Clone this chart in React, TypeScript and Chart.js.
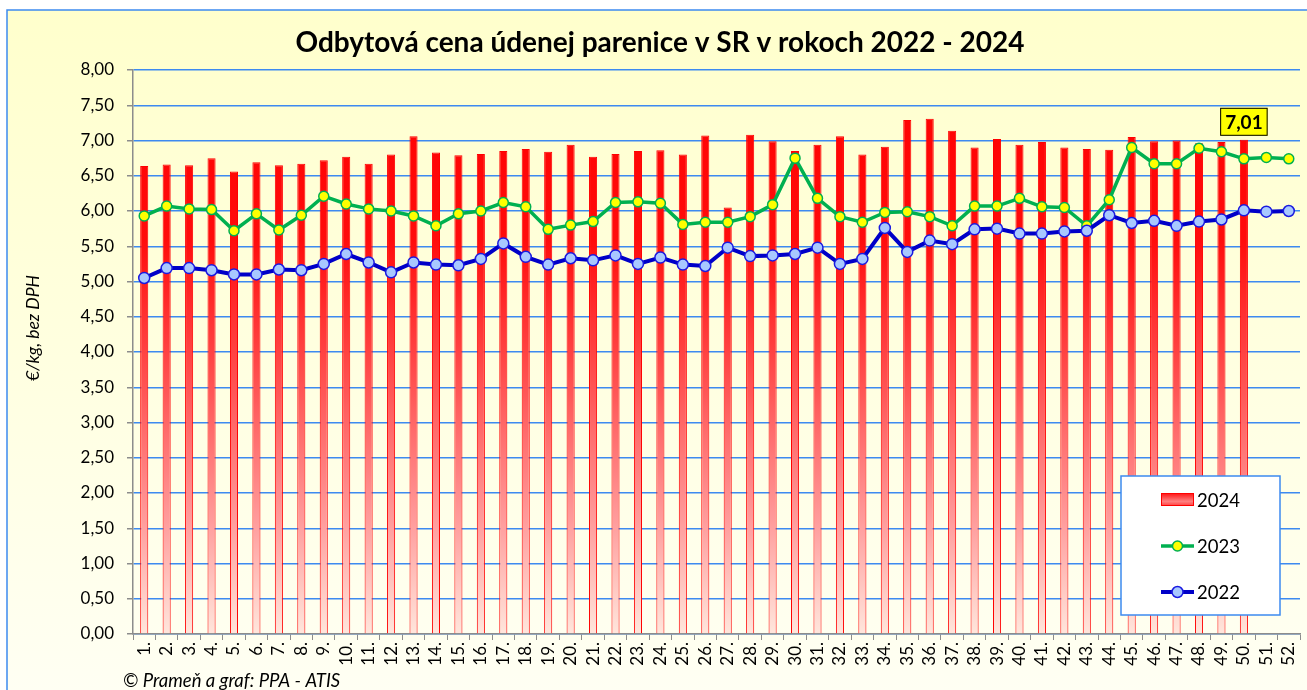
import React, { useEffect, useRef } from "react";
import { Chart, registerables } from "chart.js";

Chart.register(...registerables);

const chartTitle = "Odbytová cena údenej parenice v SR v rokoch 2022 - 2024";
const yAxisTitle = "€/kg, bez DPH";
const sourceNote = "© Prameň a graf: PPA - ATIS";

const weekLabels = [
  "1.", "2.", "3.", "4.", "5.", "6.", "7.", "8.", "9.", "10.",
  "11.", "12.", "13.", "14.", "15.", "16.", "17.", "18.", "19.", "20.",
  "21.", "22.", "23.", "24.", "25.", "26.", "27.", "28.", "29.", "30.",
  "31.", "32.", "33.", "34.", "35.", "36.", "37.", "38.", "39.", "40.",
  "41.", "42.", "43.", "44.", "45.", "46.", "47.", "48.", "49.", "50.",
  "51.", "52.",
];

const prices2024 = [
  6.64, 6.66, 6.65, 6.75, 6.56, 6.69, 6.65, 6.67, 6.72, 6.77,
  6.67, 6.80, 7.06, 6.83, 6.79, 6.81, 6.85, 6.88, 6.84, 6.94,
  6.77, 6.81, 6.85, 6.86, 6.80, 7.07, 6.05, 7.08, 6.99, 6.85,
  6.94, 7.06, 6.80, 6.91, 7.29, 7.31, 7.14, 6.90, 7.02, 6.94,
  6.98, 6.90, 6.88, 6.87, 7.05, 6.99, 7.00, 6.96, 6.98, 7.01,
  null, null,
];

const prices2023 = [
  5.93, 6.07, 6.03, 6.02, 5.72, 5.96, 5.73, 5.94, 6.21, 6.10,
  6.03, 6.00, 5.93, 5.79, 5.96, 6.00, 6.12, 6.06, 5.74, 5.80,
  5.85, 6.12, 6.13, 6.11, 5.81, 5.84, 5.84, 5.92, 6.09, 6.75,
  6.18, 5.92, 5.84, 5.98, 5.99, 5.92, 5.79, 6.07, 6.07, 6.18,
  6.06, 6.05, 5.79, 6.16, 6.90, 6.67, 6.67, 6.89, 6.84, 6.74,
  6.76, 6.74,
];

const prices2022 = [
  5.05, 5.19, 5.19, 5.16, 5.10, 5.10, 5.17, 5.16, 5.25, 5.39,
  5.27, 5.13, 5.27, 5.24, 5.23, 5.32, 5.54, 5.35, 5.24, 5.33,
  5.30, 5.37, 5.25, 5.34, 5.24, 5.22, 5.48, 5.36, 5.37, 5.39,
  5.48, 5.25, 5.32, 5.76, 5.42, 5.58, 5.53, 5.74, 5.75, 5.68,
  5.68, 5.71, 5.72, 5.94, 5.83, 5.86, 5.79, 5.85, 5.88, 6.01,
  5.99, 6.00,
];

const labelledWeekIndex = 49;

const FONT = "Lato, 'Open Sans', sans-serif";
const GRID_BLUE = "#3d8af0";
const AXIS_GRAY = "#8c8c8c";

const fmt = (v: number) => v.toFixed(2).replace(".", ",");

function barGradient(ctx: CanvasRenderingContext2D, top: number, bottom: number) {
  const g = ctx.createLinearGradient(0, top, 0, bottom);
  g.addColorStop(0, "#ff0000");
  g.addColorStop(0.3, "#ff0c0c");
  g.addColorStop(0.55, "#ff5050");
  g.addColorStop(0.8, "#ff9c9c");
  g.addColorStop(1, "#ffe6dc");
  return g;
}

const decorPlugin = {
  id: "decor",
  beforeDraw(chart: any) {
    const { ctx, width, height } = chart;
    ctx.save();
    ctx.fillStyle = "#ffffff";
    ctx.fillRect(0, 0, width, height);
    const bg = ctx.createLinearGradient(0, 10, 0, height);
    bg.addColorStop(0, "#ffffcc");
    bg.addColorStop(1, "#fffff3");
    ctx.fillStyle = bg;
    ctx.fillRect(7, 10, width - 7, height - 10);
    ctx.strokeStyle = GRID_BLUE;
    ctx.lineWidth = 1.5;
    ctx.beginPath();
    ctx.moveTo(7, height + 2);
    ctx.lineTo(7, 10);
    ctx.lineTo(width + 2, 10);
    ctx.stroke();
    ctx.restore();
  },
  afterDraw(chart: any) {
    const { ctx } = chart;
    ctx.save();
    // title
    ctx.fillStyle = "#000";
    ctx.font = `bold 28px ${FONT}`;
    ctx.textAlign = "center";
    ctx.textBaseline = "middle";
    ctx.fillText(chartTitle, 660, 43);

    // y axis title
    ctx.save();
    ctx.translate(33, 328);
    ctx.rotate(-Math.PI / 2);
    ctx.font = `italic 17.5px ${FONT}`;
    ctx.textAlign = "center";
    ctx.textBaseline = "middle";
    ctx.fillText(yAxisTitle, 0, 0);
    ctx.restore();

    // footer
    ctx.font = `italic 18.5px ${FONT}`;
    ctx.textAlign = "left";
    ctx.textBaseline = "alphabetic";
    ctx.fillText(sourceNote, 123, 687);

    // data label on bar
    const barMeta = chart.getDatasetMeta(0);
    const el = barMeta.data[labelledWeekIndex];
    if (el) {
      const txt = fmt(chart.data.datasets[0].data[labelledWeekIndex]);
      ctx.font = `bold 19px ${FONT}`;
      const tw = ctx.measureText(txt).width;
      const bw = tw + 10;
      const bh = 28;
      const bx = el.x - bw / 2;
      const by = el.y - 4 - bh;
      ctx.fillStyle = "#ffff00";
      ctx.fillRect(bx, by, bw, bh);
      ctx.strokeStyle = "#000";
      ctx.lineWidth = 1;
      ctx.strokeRect(bx + 0.5, by + 0.5, bw - 1, bh - 1);
      ctx.fillStyle = "#000";
      ctx.textAlign = "center";
      ctx.textBaseline = "middle";
      ctx.fillText(txt, el.x, by + bh / 2 + 1);
    }

    // legend
    const lx = 1121, ly = 476, lw = 159, lh = 139;
    ctx.fillStyle = "#ffffff";
    ctx.fillRect(lx, ly, lw, lh);
    ctx.strokeStyle = GRID_BLUE;
    ctx.lineWidth = 1.5;
    ctx.strokeRect(lx, ly, lw, lh);
    const ds = chart.data.datasets;
    const rows = [500, 546, 592];
    ds.forEach((d: any, i: number) => {
      const cy = rows[i];
      if (d.type === "line") {
        ctx.strokeStyle = d.borderColor;
        ctx.lineWidth = d.borderWidth;
        ctx.beginPath();
        ctx.moveTo(1161, cy);
        ctx.lineTo(1194, cy);
        ctx.stroke();
        ctx.beginPath();
        ctx.arc(1177.5, cy, d.pointRadius, 0, Math.PI * 2);
        ctx.fillStyle = d.pointBackgroundColor;
        ctx.fill();
        ctx.lineWidth = d.pointBorderWidth;
        ctx.strokeStyle = d.pointBorderColor;
        ctx.stroke();
      } else {
        const g = ctx.createLinearGradient(0, cy - 7, 0, cy + 7);
        g.addColorStop(0, "#ff1010");
        g.addColorStop(0.6, "#ff8080");
        g.addColorStop(1, "#ff3030");
        ctx.fillStyle = g;
        ctx.fillRect(1161, cy - 7, 33, 13);
        ctx.strokeStyle = "#ff0000";
        ctx.lineWidth = 1;
        ctx.strokeRect(1161.5, cy - 6.5, 32, 12);
      }
      ctx.fillStyle = "#000";
      ctx.font = `18.5px ${FONT}`;
      ctx.textAlign = "left";
      ctx.textBaseline = "middle";
      ctx.fillText(d.label, 1197, cy + 1);
    });
    ctx.restore();
  },
};

export default function App() {
  const canvasRef = useRef<HTMLCanvasElement | null>(null);

  useEffect(() => {
    let chart: Chart | null = null;
    let cancelled = false;
    const make = () => {
      if (cancelled || !canvasRef.current) return;
      chart = new Chart(canvasRef.current, {
        type: "bar",
        data: {
          labels: weekLabels,
          datasets: [
            {
              type: "bar",
              label: "2024",
              data: prices2024,
              order: 3,
              backgroundColor: (c: any) => {
                const ca = c.chart.chartArea;
                if (!ca) return "#ff0000";
                return barGradient(c.chart.ctx, ca.top, ca.bottom);
              },
              borderColor: "#ff0000",
              borderWidth: 1,
              barPercentage: 0.36,
              categoryPercentage: 1,
            } as any,
            {
              type: "line",
              label: "2023",
              data: prices2023,
              order: 2,
              borderColor: "#00b050",
              borderWidth: 3.5,
              pointRadius: 5,
              pointBackgroundColor: "#ffff00",
              pointBorderColor: "#00b050",
              pointBorderWidth: 1.5,
              tension: 0,
            } as any,
            {
              type: "line",
              label: "2022",
              data: prices2022,
              order: 1,
              borderColor: "#0000c8",
              borderWidth: 4,
              pointRadius: 5.5,
              pointBackgroundColor: "#a8c8ff",
              pointBorderColor: "#1a1ae0",
              pointBorderWidth: 1.5,
              tension: 0,
            } as any,
          ],
        },
        options: {
          animation: false,
          responsive: false,
          maintainAspectRatio: false,
          layout: { padding: { top: 70, right: 4, bottom: 0, left: 0 } },
          plugins: {
            legend: { display: false },
            title: { display: false },
            tooltip: { enabled: false },
          },
          scales: {
            x: {
              offset: true,
              grid: {
                display: true,
                drawOnChartArea: false,
                offset: true,
                color: AXIS_GRAY,
                tickLength: 6,
              },
              border: { color: AXIS_GRAY, width: 1.5 },
              ticks: {
                color: "#000",
                font: { family: FONT, size: 17 },
                maxRotation: 90,
                minRotation: 90,
                autoSkip: false,
                padding: 2,
              },
              afterFit: (s: any) => {
                s.height = 56;
                s.paddingLeft = 0;
                s.paddingRight = 0;
              },
            },
            y: {
              min: 0,
              max: 8,
              ticks: {
                stepSize: 0.5,
                color: "#000",
                font: { family: FONT, size: 17 },
                padding: 13,
                callback: (v: any) => fmt(Number(v)),
              },
              grid: {
                color: GRID_BLUE,
                lineWidth: 1.5,
                tickColor: AXIS_GRAY,
                tickLength: 6,
              },
              border: { color: AXIS_GRAY, width: 1.5 },
              afterFit: (s: any) => {
                s.width = 133;
              },
            },
          },
        },
        plugins: [decorPlugin],
      } as any);
    };
    const fontsReady = (document as any).fonts
      ? Promise.all([
          (document as any).fonts.load(`16px Lato`),
          (document as any).fonts.load(`bold 25px Lato`),
          (document as any).fonts.load(`italic 16px Lato`),
        ]).catch(() => null)
      : Promise.resolve(null);
    fontsReady.then(make);
    return () => {
      cancelled = true;
      if (chart) chart.destroy();
    };
  }, []);

  return (
    <div style={{ position: "fixed", left: 0, top: 0, width: 1307, height: 690, overflow: "hidden" }}>
      <canvas ref={canvasRef} width={1307} height={690} style={{ display: "block" }} />
    </div>
  );
}
